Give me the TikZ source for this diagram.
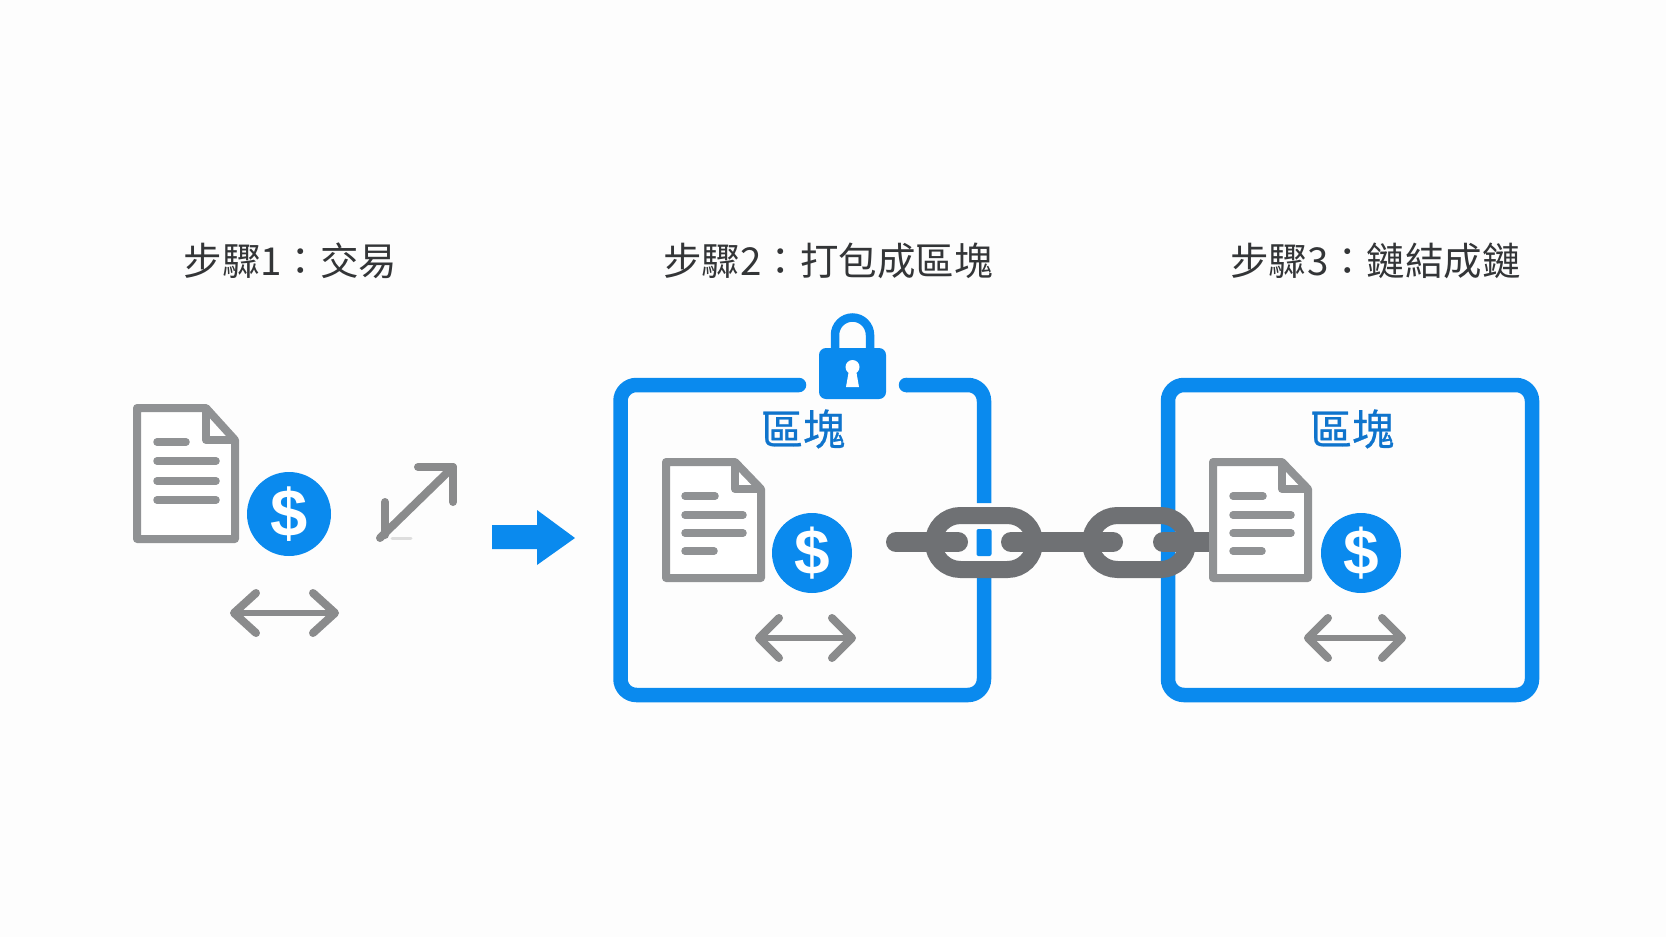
\documentclass[tikz,border=0pt]{standalone}
\usepackage{fontspec}
\newfontfamily\cjk{Noto Sans CJK TC}
\newfontfamily\cjkheavy[FakeBold=0.6]{Noto Sans CJK TC}
\newfontfamily\dollarfont{Liberation Sans Bold}
\definecolor{bluemain}{HTML}{0A8AEE}
\definecolor{bluetext}{HTML}{0F74CC}
\definecolor{docgrey}{HTML}{909294}
\definecolor{arrowgrey}{HTML}{8A8B8C}
\definecolor{linkgrey}{HTML}{6F7174}
\definecolor{titleink}{HTML}{333537}
\definecolor{paper}{HTML}{FDFDFD}
\tikzset{
  frameline/.style={draw=bluemain,line width=14.5pt,rounded corners=16pt},
  docline/.style={draw=docgrey,line width=8pt,line join=round},
  docrow/.style={draw=docgrey,line width=7.5pt,line cap=round},
  thinarrow/.style={draw=arrowgrey,line width=6.5pt,line cap=round,line join=round},
  headarrow/.style={draw=arrowgrey,line width=8pt,line cap=round,line join=round},
  link/.style={draw=linkgrey,line width=17pt,rounded corners=27pt},
  bar/.style={draw=linkgrey,line width=20pt,line cap=round},
  steptitle/.style={font=\cjk\fontsize{38.5}{44}\selectfont,text=titleink,inner sep=0pt},
  blocktitle/.style={font=\cjkheavy\fontsize{42}{48}\selectfont,text=bluetext,inner sep=0pt},
  coin/.style={circle,fill=bluemain,inner sep=0pt},
}
% left, right, top, bottom, fold x, fold y of the sheet's centre line
\newcommand{\sheet}[6]{%
  \fill[white] (#1,#3) -- (#5,#3) -- (#2,#6) -- (#2,#4) -- (#1,#4) -- cycle;
  \draw[docline] (#1,#3) -- (#5,#3) -- (#2,#6) -- (#2,#4) -- (#1,#4) -- cycle;
  \draw[docline] (#5,#3) -- (#5,#6) -- (#2,#6);
}
% name, left end, right end, y, head length, head half height
\newcommand{\twoway}[6]{%
  \coordinate (#1l) at (#2,#4);
  \coordinate (#1r) at (#3,#4);
  \draw[thinarrow] (#1l) -- (#1r);
  \draw[headarrow] (#1l) ++(#5,-#6) -- (#1l) -- ++(#5,#6);
  \draw[headarrow] (#1r) ++(-#5,-#6) -- (#1r) -- ++(-#5,#6);
}
\newcommand{\coinnode}[4]{%
  \node[coin,minimum size=#4pt] (#1) at (#2,#3) {};
  \node[inner sep=0pt,text=white,font=\dollarfont\fontsize{\numexpr#4*4/5\relax}{40}\selectfont] (#1s) at (#1) {\$};
}
\begin{document}
\begin{tikzpicture}[x=1pt,y=-1pt]
\useasboundingbox (0,0) rectangle (1666,937);
\fill[paper] (0,0) rectangle (1666,937);

% titles
\node[steptitle] (t1) at (290.5,261) {步驟1：交易};
\node[steptitle] (t2) at (828,261) {步驟2：打包成區塊};
\node[steptitle] (t3) at (1375.5,261) {步驟3：鏈結成鏈};

% step 1
\sheet{137}{235}{408}{539}{206}{440}
\draw[docrow] (157,442) -- (186,442);
\draw[docrow] (157,461) -- (216,461);
\draw[docrow] (157,481) -- (216,481);
\draw[docrow] (157,500) -- (216,500);
\coinnode{c1}{289}{514}{84}
\twoway{a1}{234}{335}{613}{22}{20}
\coordinate (dl) at (380,538);
\coordinate (dr) at (453,467);
\draw[headarrow] (dl) -- (dr);
\draw[headarrow] (418,467) -- (dr) -- (453,502);
\draw[headarrow] (385,502) -- (385,535);
\draw[draw=black!13,line width=3pt,line cap=round] (392,538) -- (411,538);

% big arrow
\fill[bluemain] (492,525) -- (537,525) -- (537,510) -- (575,538) -- (537,565) -- (537,549) -- (492,549) -- cycle;

% block 2
\draw[frameline,line cap=round] (799,385) -- (620.5,385) -- (620.5,695) -- (984,695) -- (984,570);
\draw[frameline] (906,385) -- (984,385) -- (984,503);
\fill[bluemain,rounded corners=2pt] (976.5,529) rectangle (991.5,556);
\fill[bluemain] (906,385) circle (7.25pt);
\sheet{666}{761}{462}{578}{735}{489}
\draw[docrow] (685,496) -- (715,496);
\draw[docrow] (685,515) -- (743,515);
\draw[docrow] (685,533) -- (743,533);
\draw[docrow] (685,551) -- (714,551);
\coinnode{c2}{812}{553}{80}
\twoway{a2}{759}{852}{638}{20}{20}
\node[blocktitle] (b2) at (803,429) {區塊};

% lock
\draw[draw=bluemain,line width=8.5pt] (835,352) -- (835,335) arc[start angle=180,end angle=0,radius=17.5pt] -- (870,352);
\fill[bluemain,rounded corners=7pt] (819,348) rectangle (886,399);
\fill[white] (852.5,367) circle (7pt);
\fill[white] (849,370) -- (856,370) -- (859,387) -- (846,387) -- cycle;

% block 3
\draw[frameline] (1168,385) rectangle (1532,695);
\node[blocktitle] (b3) at (1352,429) {區塊};

% chain
\draw[link] (933.5,515.5) rectangle (1034.5,569.5);
\draw[link] (1090.5,515.5) rectangle (1187.5,569.5);
\draw[bar] (896,542) -- (958,542);
\draw[bar] (1011,542) -- (1113,542);
\draw[bar] (1163,542) -- (1200,542);
\fill[linkgrey] (1200,532) rectangle (1212,552);

% block 3 contents
\sheet{1213}{1308}{462}{578}{1282}{489}
\draw[docrow] (1233,496) -- (1263,496);
\draw[docrow] (1233,515) -- (1291,515);
\draw[docrow] (1233,533) -- (1291,533);
\draw[docrow] (1233,551) -- (1262,551);
\coinnode{c3}{1361}{553}{80}
\twoway{a3}{1308}{1402}{638}{20}{20}
\end{tikzpicture}
\end{document}
